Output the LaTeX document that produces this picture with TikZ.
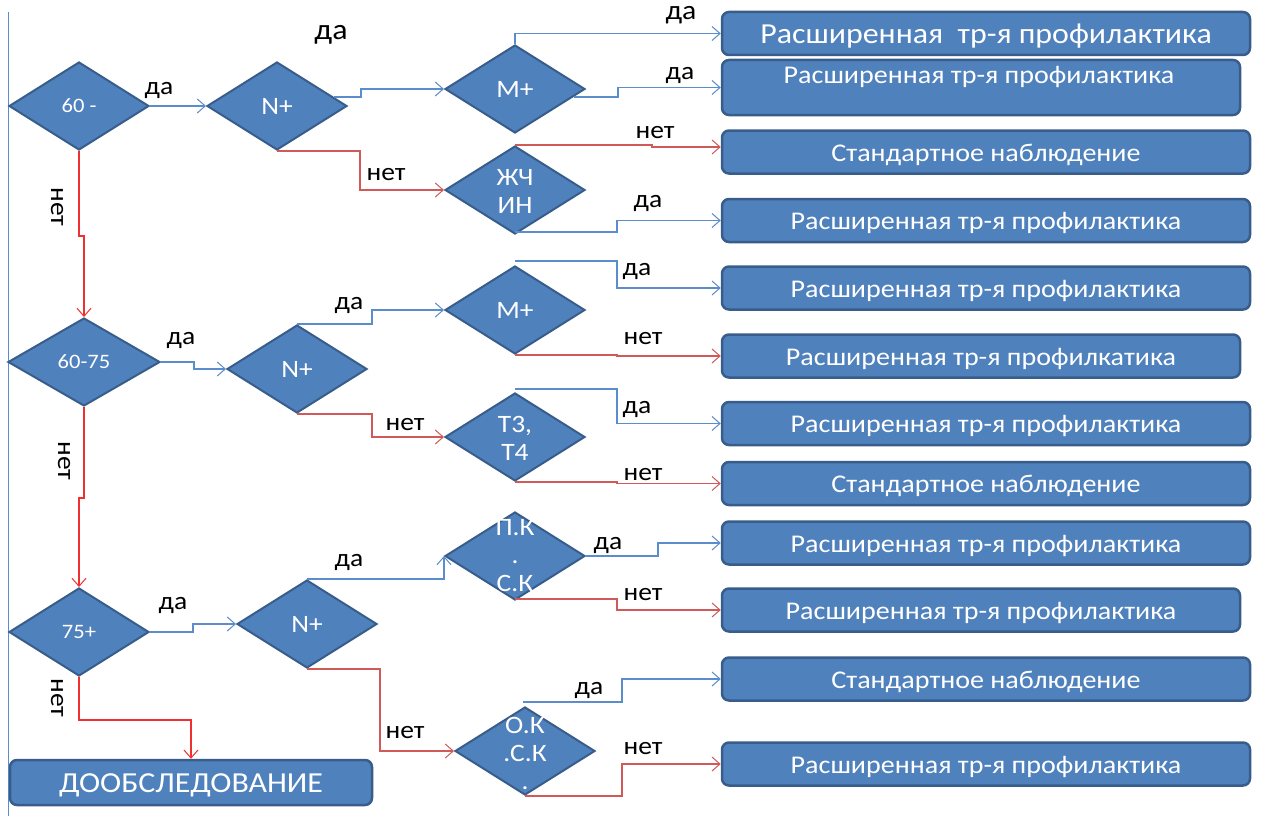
\documentclass[tikz,border=0pt]{standalone}
\usepackage{fontspec}
\setmainfont{Carlito}[FakeStretch=1.1]
\usetikzlibrary{shapes.geometric,arrows.meta,calc}
\definecolor{fillb}{HTML}{4F81BD}
\definecolor{edgeb}{HTML}{385D8A}
\definecolor{lineb}{HTML}{5B8CCB}
\definecolor{liner}{HTML}{D05A57}
\definecolor{linerr}{HTML}{F03030}
\begin{document}
\begin{tikzpicture}[x=1pt,y=-1pt,
  dec/.style={diamond, draw=edgeb, line width=2pt, fill=fillb, minimum width=140pt, minimum height=88pt, inner sep=0pt},
  box/.style={rectangle, rounded corners=7pt, draw=edgeb, line width=2.5pt, fill=fillb, minimum width=528pt, minimum height=43pt, inner sep=0pt, text=white, text height=19pt, text depth=1pt, font=\fontsize{25.5}{27}\selectfont},
  dtxt/.style={text=white, align=center, font=\fontsize{25}{28}\selectfont, inner sep=0pt},
  stxt/.style={text=white, font=\fontsize{20.5}{22}\selectfont, inner sep=0pt},
  lbl/.style={text=black, font=\fontsize{25}{27}\selectfont, inner sep=0pt},
  cb/.style={draw=lineb, line width=1.2pt, -{Straight Barb[length=8pt,width=14pt,line width=1pt]}},
  cr/.style={draw=liner, line width=1.2pt, -{Straight Barb[length=8pt,width=14pt,line width=1pt]}},
  crr/.style={draw=linerr, line width=1.2pt, -{Straight Barb[length=8pt,width=14pt,line width=1pt]}}
]
\useasboundingbox (0,0) rectangle (1264,816);
\fill[white] (0,0) rectangle (1264,816);
\draw[lineb, line width=1pt] (8,12) -- (8,816);

% diamonds
\node[dec] (d1) at (79,106) {};
\node[dec] (d2) at (277,106) {};
\node[dec] (d3) at (515,89) {};
\node[dec] (d4) at (515,190) {};
\node[dec, minimum width=152pt] (d5) at (84,362) {};
\node[dec] (d6) at (297,369) {};
\node[dec] (d7) at (515,310) {};
\node[dec] (d8) at (515,437) {};
\node[dec] (d9) at (79,632) {};
\node[dec] (d10) at (307,624) {};
\node[dec] (d11) at (515,556) {};
\node[dec] (d12) at (525,751) {};

\node[stxt] (t1) at (d1) {60 -};
\node[dtxt] (t2) at (d2) {N+};
\node[dtxt] (t3) at (d3) {M+};
\node[dtxt] (t4) at (515,191) {ЖЧ\\ИН};
\node[stxt] (t5) at (d5) {60-75};
\node[dtxt] (t6) at (d6) {N+};
\node[dtxt] (t7) at (d7) {M+};
\node[dtxt] (t8) at (515,438) {T3,\\T4};
\node[stxt] (t9) at (d9) {75+};
\node[dtxt] (t10) at (d10) {N+};
\node[dtxt] (t11) at (515,556) {П.К\\.\\С.К};
\node[dtxt] (t12) at (525,753) {О.К\\.С.К\\.};

% boxes
\node[box, font=\fontsize{29}{31}\selectfont, text height=21pt] (b1) at (986,33.5) {Расширенная\ \ тр-я профилактика};
\node[box, minimum width=518pt, minimum height=55pt] (b2) at (981,87.5) {};
\node[text=white, font=\fontsize{25.5}{27}\selectfont, inner sep=0pt, text height=19pt, text depth=1pt] (b2t) at (979,75) {Расширенная тр-я профилактика};
\node[box] (b3) at (986,152) {Стандартное наблюдение};
\node[box] (b4) at (986,220.5) {Расширенная тр-я профилактика};
\node[box] (b5) at (986,288) {Расширенная тр-я профилактика};
\node[box, minimum width=518pt] (b6) at (981,356) {Расширенная тр-я профилкатика};
\node[box] (b7) at (986,423.5) {Расширенная тр-я профилактика};
\node[box] (b8) at (986,483.5) {Стандартное наблюдение};
\node[box] (b9) at (986,543) {Расширенная тр-я профилактика};
\node[box, minimum width=518pt] (b10) at (981,610) {Расширенная тр-я профилактика};
\node[box] (b11) at (986,679) {Стандартное наблюдение};
\node[box] (b12) at (986,764) {Расширенная тр-я профилактика};
\node[box, minimum width=362pt, minimum height=45pt, font=\fontsize{29}{31}\selectfont, text height=21pt] (dob) at (191,782.5) {ДООБСЛЕДОВАНИЕ};

% connectors
\draw[cb] (d1.east) -- (d2.west);
\draw[cb] ($(d2.east)+(-14,-9)$) -- ++(27,0) |- (d3.west);
\draw[cr] (d2.south) -- ++(83,0) |- (d4.west);
\draw[cb] (d3.north) |- (b1.west);
\draw[cb] ($(d3.east)+(-12,8)$) -- ++(44,0) |- (b2.west);
\draw[cr] (d4.north) -- ++(137,0) |- ($(b3.west)+(0,-5)$);
\draw[cb] ($(d4.south)+(0,-3)$) -- ++(102,0) |- (b4.west);
\draw[crr] (d1.south) -- ++(0,85) -| (d5.north);
\draw[cb] (d5.east) -- ++(33,0) |- (d6.west);
\draw[cb] (d6.north) -- ++(75,0) |- (d7.west);
\draw[cr] (d6.south) -- ++(75,0) |- (d8.west);
\draw[cb] ($(d7.north)+(0,-4)$) -- ++(102,0) |- (b5.west);
\draw[cr] (d7.south) -- ++(102,0) |- (b6.west);
\draw[cb] ($(d8.north)+(0,-3)$) -- ++(102,0) |- (b7.west);
\draw[cr] (d8.south) -- ++(102,0) |- (b8.west);
\draw[crr] (d5.south) -- ++(0,91) -| (d9.north);
\draw[cb] (d9.east) -- ++(43,0) |- (d10.west);
\draw[cb] (d10.north) -| (d11.west);
\draw[cr] (d10.south) -- ++(73,0) |- (d12.west);
\draw[crr] (d9.south) -- ++(0,43) -| (dob.north);
\draw[cb] (d11.east) -- ++(72,0) |- (b9.west);
\draw[cr] ($(d11.south)+(0,-2)$) -- ++(102,0) |- (b10.west);
\draw[cb] ($(d12.north)+(-2,-4)$) -- ++(99,0) |- (b11.west);
\draw[cr] (d12.south) -- ++(97,0) |- (b12.west);

% labels
\node[lbl, font=\fontsize{29}{31}\selectfont] (l0) at (331,35) {да};
\node[lbl] (l1) at (159,90) {да};
\node[lbl] (l2) at (386,175) {нет};
\node[lbl, rotate=-90] (l3) at (57,207) {нет};
\node[lbl, font=\fontsize{27}{29}\selectfont, anchor=south] (l4) at (681,24) {да};
\node[lbl] (l5) at (680,75) {да};
\node[lbl] (l6) at (655,133) {нет};
\node[lbl] (l7) at (648,203) {да};
\node[lbl] (l8) at (181,340) {да};
\node[lbl] (l9) at (349,305) {да};
\node[lbl] (l10) at (405,425) {нет};
\node[lbl, rotate=-90] (l11) at (64,461) {нет};
\node[lbl] (l12) at (637,271) {да};
\node[lbl] (l13) at (643,339) {нет};
\node[lbl] (l14) at (637,409) {да};
\node[lbl] (l15) at (643,475) {нет};
\node[lbl] (l16) at (173,605) {да};
\node[lbl] (l17) at (349,562) {да};
\node[lbl] (l18) at (405,733) {нет};
\node[lbl, rotate=-90] (l19) at (57,698) {нет};
\node[lbl] (l20) at (608,545) {да};
\node[lbl] (l21) at (643,595) {нет};
\node[lbl] (l22) at (589,690) {да};
\node[lbl] (l23) at (643,749) {нет};
\end{tikzpicture}
\end{document}
